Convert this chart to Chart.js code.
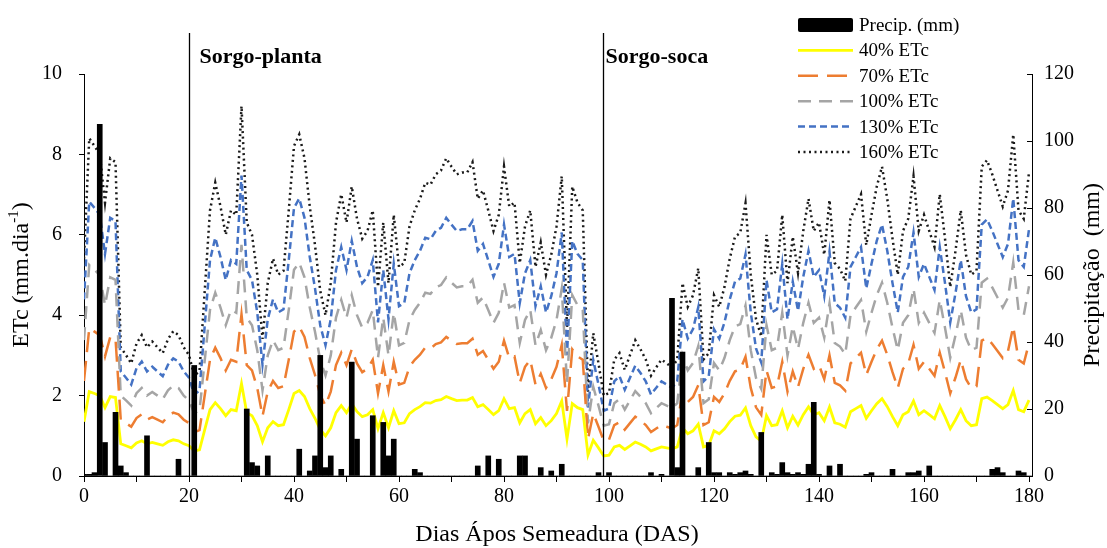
<!DOCTYPE html>
<html lang="pt">
<head>
<meta charset="utf-8">
<title>ETc e precipitação - sorgo</title>
<script src="https://cdn.jsdelivr.net/npm/chart.js@4.4.1/dist/chart.umd.min.js"></script>
<style>
  html, body { margin: 0; padding: 0; background: #fff; }
</style>
</head>
<body>
<canvas id="etcChart" width="1107" height="548"></canvas>
<script>
const FONTE = "'Liberation Serif', 'Times New Roman', serif";

// dias após semeadura (0 a 180)
const dias = Array.from({ length: 181 }, (_, i) => i);

// ETc diária a 100%, mm/dia (uma linha = 10 dias)
const etc100 = [
  3.38, 5.25, 5.13, 5.00, 4.25, 4.94, 4.88, 2.00, 1.88, 1.75,
  2.06, 2.19, 2.00, 2.09, 2.00, 1.91, 2.13, 2.25, 2.19, 2.00,
  1.88, 1.56, 1.63, 2.88, 4.13, 4.56, 4.19, 3.75, 4.13, 4.06,
  5.75, 3.94, 3.75, 3.13, 2.13, 3.00, 3.38, 3.13, 3.19, 4.13,
  5.13, 5.31, 4.94, 4.19, 3.59, 2.88, 2.50, 3.00, 3.94, 4.38,
  3.94, 4.50, 4.00, 3.69, 3.81, 4.13, 2.94, 3.94, 3.00, 4.06,
  3.25, 3.31, 3.88, 4.13, 4.31, 4.56, 4.53, 4.69, 4.75, 4.94,
  4.81, 4.69, 4.72, 4.72, 4.88, 4.31, 4.44, 4.13, 3.81, 4.06,
  4.81, 4.19, 4.25, 3.31, 3.88, 4.13, 3.25, 3.63, 3.13, 3.44,
  3.88, 4.66, 2.31, 4.50, 4.25, 4.13, 1.31, 2.22, 1.75, 1.25,
  1.29, 1.81, 1.91, 1.65, 1.88, 2.11, 1.97, 1.81, 1.56, 1.69,
  1.81, 1.75, 1.69, 1.81, 3.00, 2.63, 2.81, 3.23, 1.81, 1.91,
  2.81, 2.63, 2.94, 3.38, 3.72, 3.78, 4.24, 3.13, 2.44, 2.17,
  3.75, 3.13, 3.19, 4.06, 3.00, 3.72, 3.16, 3.81, 4.31, 3.81,
  3.94, 3.44, 4.29, 3.31, 3.22, 3.03, 4.00, 4.19, 4.38, 3.59,
  4.06, 4.50, 4.81, 4.31, 3.69, 3.13, 3.81, 4.00, 4.66, 3.81,
  4.06, 3.81, 3.56, 4.38, 3.69, 2.94, 3.50, 4.13, 3.44, 3.13,
  3.19, 4.81, 4.91, 4.69, 4.44, 4.19, 4.44, 5.31, 4.13, 4.00,
  4.72,
];

// precipitação diária, mm
const precip = [
  0.5, 0.5, 1, 105, 10, 0, 19, 3, 1, 0,
  0, 0, 12, 0, 0, 0, 0, 0, 5, 0,
  0, 33, 0, 0, 0, 0, 0, 0, 0, 0,
  0, 20, 4, 3, 0, 6, 0, 0, 0, 0,
  0, 8, 0, 1.5, 6, 36, 2.5, 6, 0, 2,
  0, 34, 11, 0, 0, 18, 0, 16, 6, 11,
  0, 0, 0, 2, 1, 0, 0, 0, 0, 0,
  0, 0, 0, 0, 0, 3, 0, 6, 0, 5,
  0, 0, 0, 6, 6, 0, 0, 2.5, 0, 1.5,
  0, 3.5, 0, 0, 0, 0, 0, 0, 1, 0,
  1, 0, 0, 0, 0, 0, 0, 0, 1, 0,
  0.5, 0, 53, 2.5, 37, 0, 0, 2.5, 0, 10,
  1, 1, 0, 1, 0.5, 1, 1.5, 0.5, 0, 13,
  0, 1, 0.5, 4, 1, 0.5, 1, 0.5, 3.5, 22,
  0.5, 0, 3, 0, 3.5, 0, 0, 0, 0, 0.5,
  1, 0, 0, 0, 2, 0, 0, 1, 1, 1.5,
  0, 3, 0, 0, 0, 0, 0, 0, 0, 0,
  0, 0, 0, 2, 2.5, 1, 0, 0, 1.5, 1,
  0,
];

// lâminas de reposição (% da ETc)
const niveis = [40, 70, 100, 130, 160];
const niveis_cores = ["#ffff00", "#ed7d31", "#a5a5a5", "#4472c4", "#1a1a1a"];
const niveis_tracos = [[], [20, 9], [13, 8], [7, 4], [2, 3.5]];

// início de cada ciclo
const ciclos_dias = [20, 98.8];
const ciclos_nomes = ["Sorgo-planta", "Sorgo-soca"];

const datasets = [
  {
    type: "bar",
    label: "Precip. (mm)",
    data: precip.map((v, i) => ({ x: dias[i], y: v })),
    backgroundColor: "#000",
    borderWidth: 0,
    barThickness: 5,
    yAxisID: "y1",
    order: 0,
  },
];

niveis.forEach((n, k) => {
  datasets.push({
    type: "line",
    label: `${n}% ETc`,
    data: etc100.map((v, i) => ({ x: dias[i], y: (v * n) / 100 })),
    borderColor: niveis_cores[k],
    borderDash: niveis_tracos[k],
    borderWidth: k === 0 ? 2.8 : 2.5,
    pointRadius: 0,
    tension: 0,
    fill: false,
    yAxisID: "y",
    order: 1,
  });
});

// linhas de ciclo, títulos dos eixos e legenda
const extras = {
  id: "extras",
  afterDraw(chart) {
    const ctx = chart.ctx;
    const area = chart.chartArea;
    const xs = chart.scales.x;
    const y1 = chart.scales.y1;
    ctx.save();

    // divisão dos ciclos
    ctx.strokeStyle = "#000";
    ctx.lineWidth = 1.3;
    ctx.fillStyle = "#000";
    ctx.font = `bold 22px ${FONTE}`;
    ctx.textBaseline = "middle";
    ciclos_dias.forEach((d, i) => {
      const px = Math.round(xs.getPixelForValue(d)) + 0.5;
      ctx.beginPath();
      ctx.moveTo(px, 33);
      ctx.lineTo(px, area.bottom);
      ctx.stroke();
      ctx.fillText(ciclos_nomes[i], px + (i === 0 ? 10 : 2), 57);
    });

    // marcas do eixo direito, para dentro
    ctx.lineWidth = 1;
    y1.ticks.forEach((t) => {
      const py = Math.round(y1.getPixelForValue(t.value)) + 0.5;
      ctx.beginPath();
      ctx.moveTo(area.right - 5, py);
      ctx.lineTo(area.right, py);
      ctx.stroke();
    });

    // títulos dos eixos
    ctx.font = `24px ${FONTE}`;
    ctx.textAlign = "center";
    ctx.fillText("Dias Ápos Semeadura (DAS)", 557, 535);

    ctx.save();
    ctx.translate(1093, 275);
    ctx.rotate(-Math.PI / 2);
    ctx.fillText("Precipitação  (mm)", 0, 0);
    ctx.restore();

    ctx.save();
    ctx.translate(22, 275);
    ctx.rotate(-Math.PI / 2);
    const base = "ETc (mm.dia";
    const sup = "-1";
    const fim = ")";
    ctx.font = `24px ${FONTE}`;
    const wBase = ctx.measureText(base).width;
    const wFim = ctx.measureText(fim).width;
    ctx.font = `15px ${FONTE}`;
    const wSup = ctx.measureText(sup).width;
    let x0 = -(wBase + wSup + wFim) / 2;
    ctx.textAlign = "left";
    ctx.font = `24px ${FONTE}`;
    ctx.fillText(base, x0, 0);
    ctx.font = `15px ${FONTE}`;
    ctx.fillText(sup, x0 + wBase, -8);
    ctx.font = `24px ${FONTE}`;
    ctx.fillText(fim, x0 + wBase + wSup, 0);
    ctx.restore();

    // legenda
    const lx = 798;
    const ly = 25;
    const passo = 25.4;
    ctx.font = `19px ${FONTE}`;
    ctx.textAlign = "left";
    chart.data.datasets.forEach((ds, i) => {
      const y = ly + i * passo;
      if (ds.type === "bar") {
        ctx.fillStyle = "#000";
        ctx.beginPath();
        ctx.roundRect(lx, y - 7, 55, 14, 2);
        ctx.fill();
      } else {
        ctx.setLineDash(ds.borderDash);
        ctx.strokeStyle = ds.borderColor;
        ctx.lineWidth = ds.borderWidth;
        ctx.beginPath();
        ctx.moveTo(lx, y);
        ctx.lineTo(lx + 55, y);
        ctx.stroke();
        ctx.setLineDash([]);
      }
      ctx.fillStyle = "#000";
      ctx.fillText(ds.label, lx + 61, y + 1);
    });

    ctx.restore();
  },
};

Chart.defaults.font.family = FONTE;
Chart.defaults.font.size = 20;
Chart.defaults.color = "#000";

const ctx = document.getElementById("etcChart").getContext("2d");
const etcChart = new Chart(ctx, {
  type: "line",
  data: { datasets: datasets },
  options: {
    responsive: false,
    animation: false,
    devicePixelRatio: 1,
    layout: { padding: { top: 74, left: 0, right: 0, bottom: 0 } },
    plugins: {
      legend: { display: false },
      tooltip: { enabled: false },
    },
    scales: {
      x: {
        type: "linear",
        min: 0,
        max: 180.57,
        offset: false,
        afterFit: (s) => { s.height = 72; },
        ticks: {
          stepSize: 10,
          includeBounds: false,
          maxRotation: 0,
          autoSkip: false,
          padding: 3,
          callback: (v) => (v % 20 === 0 ? v : ""),
        },
        grid: {
          offset: false,
          drawOnChartArea: false,
          tickLength: 6,
          color: "#000",
        },
        border: { color: "#000", width: 1 },
      },
      y: {
        position: "left",
        min: 0,
        max: 10,
        afterFit: (s) => { s.width = 84; },
        ticks: { stepSize: 2, padding: 17 },
        grid: { drawOnChartArea: false, tickLength: 5, color: "#000" },
        border: { color: "#000", width: 1 },
      },
      y1: {
        position: "right",
        min: 0,
        max: 120,
        afterFit: (s) => { s.width = 75; },
        ticks: { stepSize: 20, padding: 12 },
        grid: { drawOnChartArea: false, drawTicks: false, color: "#000" },
        border: { color: "#000", width: 1 },
      },
    },
  },
  plugins: [extras],
});
</script>
</body>
</html>
